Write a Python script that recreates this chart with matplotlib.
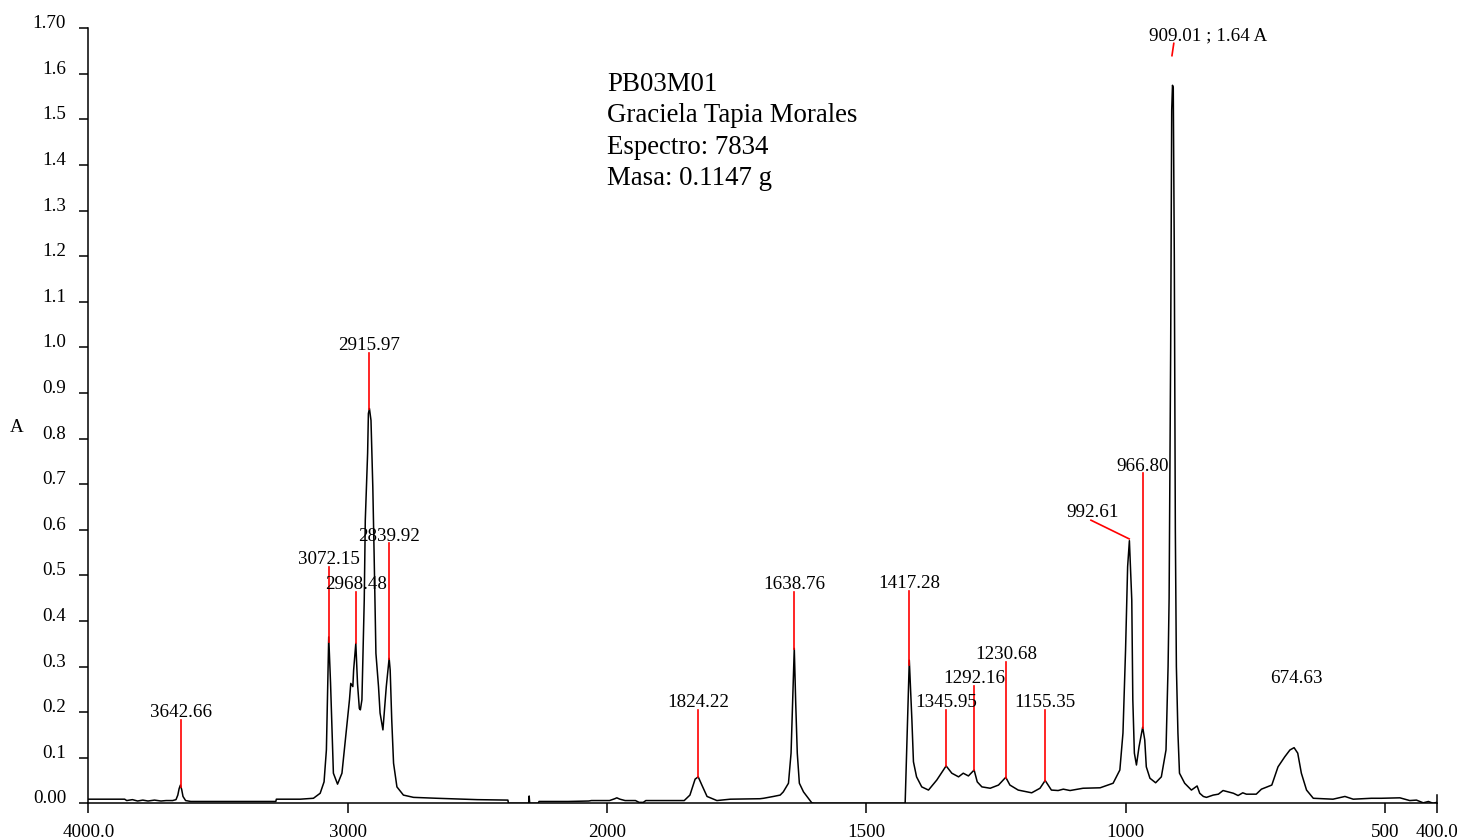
import numpy as np
import matplotlib
matplotlib.use("Agg")
import matplotlib.pyplot as plt

plt.rcParams["font.family"] = ["Liberation Serif", "DejaVu Serif"]

# IR spectrum (cm-1, absorbance)
wavenumber = [
    4000, 3860, 3852, 3830, 3810, 3790, 3770, 3745, 3720, 3700, 3675, 3662,
    3655, 3650, 3645, 3640, 3635, 3625, 3605, 3400, 3277, 3275, 3183, 3132,
    3106, 3091, 3082, 3073, 3066, 3060, 3055, 3039, 3022, 3010, 2993, 2988,
    2980, 2977, 2968.5, 2962, 2955, 2951, 2945, 2936, 2932, 2923, 2920, 2916,
    2910, 2903, 2898, 2891, 2881, 2875, 2864, 2851, 2840, 2836, 2830, 2823,
    2810, 2785, 2746, 2656, 2500, 2382, 2380, 2302, 2300, 2298, 2265, 2262,
    2150, 2070, 2060, 1995, 1985, 1981, 1975, 1965, 1945, 1938, 1930, 1925,
    1851, 1840, 1830, 1824, 1817, 1807, 1788, 1762, 1705, 1698, 1679, 1666,
    1660, 1650, 1645, 1642, 1638.8, 1636, 1633, 1629, 1621, 1605, 1600, 1425,
    1417, 1412, 1409, 1403, 1393, 1380, 1364, 1346, 1335, 1322, 1313, 1303,
    1292, 1286, 1277, 1261, 1245, 1231, 1223, 1207, 1181, 1165, 1155, 1143,
    1130, 1120, 1107, 1082, 1049, 1024, 1011, 1005, 1000, 996, 992.6, 988,
    986, 983, 979, 974, 967, 963, 960, 953, 942, 931, 922, 918, 916, 913, 911,
    909.5, 908, 906, 904,
    902, 899, 896, 886, 873, 862, 857, 850, 844, 831, 821, 812, 792, 783, 774,
    767, 748, 738, 718, 706, 693, 683, 675, 668, 661, 651, 638, 600, 577, 561,
    526, 507, 471, 452, 439, 426, 416, 407, 400,
]
absorbance = [
    0.009, 0.009, 0.006, 0.008, 0.005, 0.007, 0.005, 0.007, 0.005, 0.006, 0.006, 0.008,
    0.018, 0.032, 0.040, 0.030, 0.015, 0.006, 0.004, 0.004, 0.004, 0.009, 0.009, 0.011,
    0.022, 0.047, 0.117, 0.365, 0.264, 0.154, 0.066, 0.042, 0.066, 0.132, 0.227, 0.263,
    0.256, 0.292, 0.351, 0.263, 0.208, 0.205, 0.227, 0.446, 0.621, 0.768, 0.855, 0.866,
    0.840, 0.694, 0.548, 0.329, 0.256, 0.198, 0.161, 0.256, 0.318, 0.292, 0.183, 0.088,
    0.036, 0.018, 0.013, 0.011, 0.008, 0.007, 0.0, 0.0, 0.016, 0.0, 0.0, 0.004,
    0.004, 0.005, 0.006, 0.006, 0.010, 0.012, 0.009, 0.006, 0.006, 0.002, 0.002, 0.006,
    0.006, 0.018, 0.053, 0.058, 0.040, 0.015, 0.006, 0.009, 0.010, 0.011, 0.015, 0.018,
    0.025, 0.044, 0.110, 0.219, 0.340, 0.219, 0.110, 0.044, 0.025, 0.001, 0.0, 0.0,
    0.314, 0.183, 0.091, 0.058, 0.036, 0.029, 0.051, 0.082, 0.066, 0.058, 0.066, 0.060,
    0.073, 0.047, 0.036, 0.033, 0.040, 0.057, 0.040, 0.029, 0.023, 0.033, 0.050, 0.029,
    0.028, 0.031, 0.028, 0.033, 0.034, 0.044, 0.073, 0.154, 0.336, 0.519, 0.576, 0.446,
    0.227, 0.110, 0.084, 0.124, 0.167, 0.139, 0.080, 0.055, 0.045, 0.058, 0.117, 0.300, 0.450, 1.000, 1.520,
    1.575, 1.570, 1.200, 0.600,
    0.300, 0.154, 0.066, 0.044, 0.029, 0.038, 0.022, 0.015, 0.013, 0.018, 0.020, 0.028, 0.022, 0.017, 0.023,
    0.020, 0.020, 0.031, 0.040, 0.080, 0.102, 0.117, 0.122, 0.110, 0.066, 0.029, 0.011, 0.009, 0.015, 0.009,
    0.011, 0.011, 0.012, 0.006, 0.007, 0.001, 0.004, 0.000, 0.002,
]

# peak picks: label, position, top of the red marker line
peak_labels = ["3642.66", "3072.15", "2968.48", "2915.97", "2839.92", "1824.22",
               "1638.76", "1417.28", "1345.95", "1292.16", "1230.68", "1155.35", "966.80"]
peak_wn = [3642.66, 3072.15, 2968.48, 2915.97, 2839.92, 1824.22,
           1638.76, 1417.28, 1345.95, 1292.16, 1230.68, 1155.35, 966.80]
peak_top = [0.183, 0.518, 0.464, 0.988, 0.570, 0.205,
            0.463, 0.466, 0.205, 0.257, 0.310, 0.205, 0.724]

info_lines = ["PB03M01", "Graciela Tapia Morales", "Espectro: 7834", "Masa: 0.1147 g"]

xticks = [4000, 3000, 2000, 1500, 1000, 500, 400]
xtick_labels = ["4000.0", "3000", "2000", "1500", "1000", "500", "400.0"]
yticks = [0.0, 0.1, 0.2, 0.3, 0.4, 0.5, 0.6, 0.7, 0.8, 0.9, 1.0,
          1.1, 1.2, 1.3, 1.4, 1.5, 1.6, 1.7]
ytick_labels = ["0.00", "0.1", "0.2", "0.3", "0.4", "0.5", "0.6", "0.7", "0.8", "0.9", "1.0",
                "1.1", "1.2", "1.3", "1.4", "1.5", "1.6", "1.70"]

FS = 13.7


# the spectrometer halves the scale above 2000 cm-1
def fwd(w):
    w = np.asarray(w, dtype=float)
    return np.where(w > 2000, 2000 + (w - 2000) / 2.0, w)


def inv(u):
    u = np.asarray(u, dtype=float)
    return np.where(u > 2000, 2000 + (u - 2000) * 2.0, u)


fig = plt.figure(figsize=(14.58, 8.4), dpi=100)
ax = fig.add_axes([0.0606, 0.0437, 0.9248, 0.9226])
ax.set_xscale("function", functions=(fwd, inv))

ax.plot(wavenumber, absorbance, color="black", lw=1.1)

wn_inc = np.array(wavenumber)[::-1]
ab_inc = np.array(absorbance)[::-1]
for lab, w, top in zip(peak_labels, peak_wn, peak_top):
    base = np.interp(w, wn_inc, ab_inc)
    ax.plot([w, w], [base, top], color="red", lw=1.2)
    ax.text(w, top + 0.006, lab, ha="center", va="baseline", fontsize=FS)

# 992.61 is labelled with a slanted leader
ax.plot([993.0, 1066.7], [0.58, 0.621], color="red", lw=1.2)
ax.text(1063, 0.628, "992.61", ha="center", va="baseline", fontsize=FS)

# 909.01 main peak, off the top of the marker range
ax.plot([910.5, 907.0], [1.64, 1.667], color="red", lw=1.2)
ax.text(840, 1.674, "909.01 ; 1.64 A", ha="center", va="baseline", fontsize=FS)

ax.text(671, 0.264, "674.63", ha="center", va="baseline", fontsize=FS)

for i, line in enumerate(info_lines):
    ax.text(2000, 1.563 - i * 0.069, line, ha="left", va="baseline", fontsize=19.4)

fig.text(17 / 1458, 1 - 427 / 840, "A", ha="center", va="center", fontsize=FS)

ax.set_xlim(4000, 400)
ax.set_ylim(0, 1.7)
ax.set_xticks(xticks)
ax.set_xticklabels(xtick_labels)
ax.set_yticks(yticks)
ax.set_yticklabels(ytick_labels, va="baseline")
ax.minorticks_off()
ax.tick_params(axis="x", direction="out", length=7.2, width=1.1, pad=8, labelsize=FS)
ax.tick_params(axis="y", direction="out", length=6.5, width=1.1, pad=9.5, labelsize=FS)
ax.plot([400, 400], [0, 0.018], color="black", lw=1.1, clip_on=False)

for s in ["top", "right"]:
    ax.spines[s].set_visible(False)
for s in ["left", "bottom"]:
    ax.spines[s].set_linewidth(1.1)

fig.savefig("out.png", dpi=100)
